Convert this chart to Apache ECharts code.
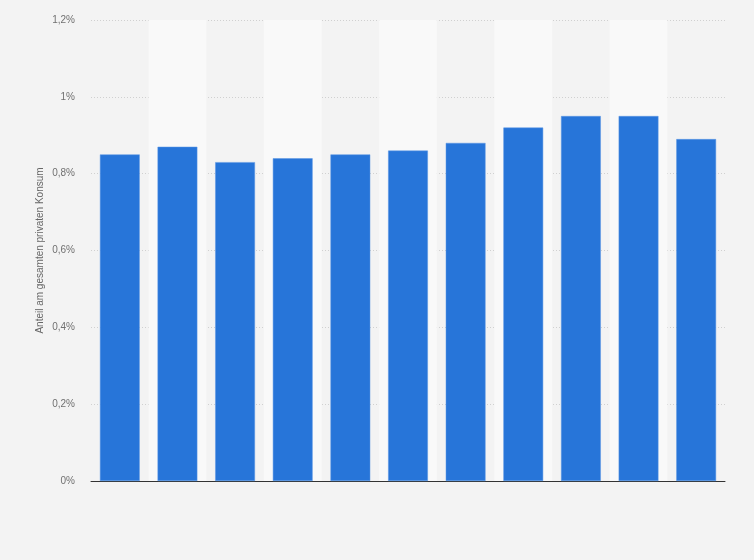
<!DOCTYPE html>
<html><head><meta charset="utf-8">
<script src="https://cdn.jsdelivr.net/npm/echarts@6/dist/echarts.min.js"></script>
<style>html,body{margin:0;padding:0;background:#f3f3f3;}#c{width:754px;height:560px;}</style>
</head><body><div id="c"></div>
<script>
const categories = ['1','2','3','4','5','6','7','8','9','10','11'];
const values = [0.85, 0.87, 0.83, 0.84, 0.85, 0.86, 0.88, 0.92, 0.95, 0.95, 0.89];
const yTicks = [0, 0.2, 0.4, 0.6, 0.8, 1.0, 1.2];
const yName = 'Anteil am gesamten privaten Konsum';

const chart = echarts.init(document.getElementById('c'), null, {renderer:'canvas'});
const fmt = v => {
  const r = Math.round(v*10)/10;
  return (Number.isInteger(r) ? String(r) : r.toFixed(1).replace('.', ',')) + '%';
};
chart.setOption({
  backgroundColor: '#f3f3f3',
  animation: false,
  grid: {left: 91, right: 29, top: 20, bottom: 79, containLabel: false},
  xAxis: {
    type: 'category', data: categories,
    axisLine: {lineStyle: {color: '#333', width: 1}},
    axisTick: {show: false},
    axisLabel: {show: false},
    splitArea: {show: true, areaStyle: {color: ['rgba(0,0,0,0)', '#f9f9f9']}}
  },
  yAxis: {
    type: 'value', min: yTicks[0], max: yTicks[yTicks.length-1], interval: 0.2,
    name: yName, nameLocation: 'middle', nameGap: 46, nameRotate: 90,
    nameMoveOverlap: false,
    nameTextStyle: {color: '#666', fontSize: 10, fontFamily: 'Liberation Sans, Arial, sans-serif'},
    axisLine: {show: false}, axisTick: {show: false},
    axisLabel: {formatter: fmt, color: '#707070', fontSize: 10, margin: 16, fontFamily: 'Liberation Sans, Arial, sans-serif'},
    splitLine: {lineStyle: {color: '#d0d0d0', type: [1, 2], width: 1}}
  },
  series: [{
    type: 'bar', data: values, barWidth: '69%',
    itemStyle: {color: '#2775d9', borderColor: '#5b96e4', borderWidth: 0.5}
  }]
});
</script></body></html>
